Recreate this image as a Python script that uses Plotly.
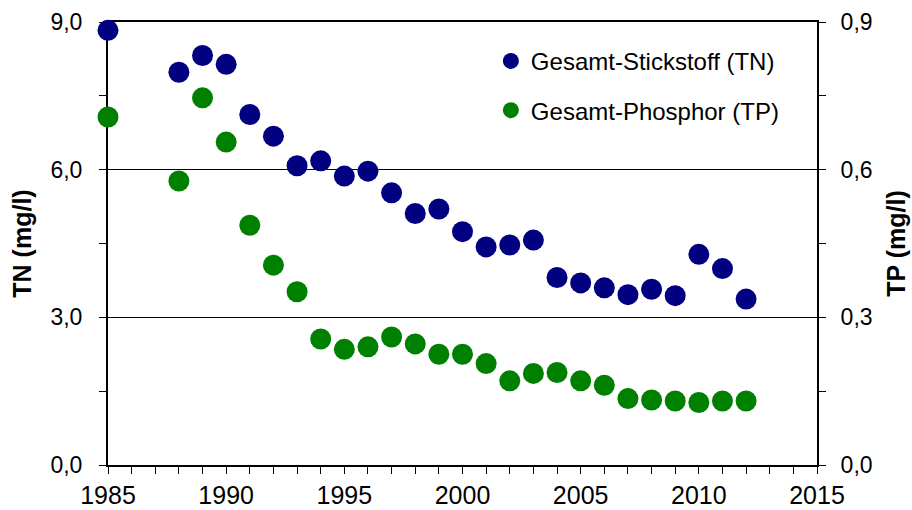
import plotly.graph_objects as go

years = [1985, 1988, 1989, 1990, 1991, 1992, 1993, 1994, 1995, 1996, 1997, 1998, 1999,
         2000, 2001, 2002, 2003, 2004, 2005, 2006, 2007, 2008, 2009, 2010, 2011, 2012]
tn = [8.83, 7.98, 8.32, 8.14, 7.12, 6.68, 6.08, 6.18, 5.87, 5.97, 5.53, 5.11, 5.20,
      4.74, 4.43, 4.47, 4.57, 3.81, 3.70, 3.60, 3.46, 3.57, 3.44, 4.28, 3.99, 3.37]
tp = [0.707, 0.577, 0.746, 0.656, 0.487, 0.406, 0.352, 0.256, 0.235, 0.240, 0.260, 0.246, 0.225,
      0.225, 0.206, 0.171, 0.186, 0.188, 0.171, 0.162, 0.135, 0.132, 0.130, 0.127, 0.130, 0.130]

tn_name = "Gesamt-Stickstoff (TN)"
tp_name = "Gesamt-Phosphor (TP)"
tn_title = "TN (mg/l)"
tp_title = "TP (mg/l)"

FONT = "Liberation Sans, Arial, sans-serif"

fig = go.Figure()
fig.add_trace(go.Scatter(x=years, y=tn, mode="markers", name=tn_name, legendgroup="a",
                         marker=dict(color="#000080", size=21), cliponaxis=False))
fig.add_trace(go.Scatter(x=years, y=tp, mode="markers", name=tp_name, legendgroup="b",
                         yaxis="y2", marker=dict(color="#008000", size=21), cliponaxis=False))

axis_common = dict(showline=True, linecolor="#000", linewidth=2, ticks="outside",
                   tickcolor="#000", ticklen=7, tickwidth=1, layer="below traces",
                   zeroline=False, automargin=False)

fig.update_layout(
    width=912, height=510,
    margin=dict(l=108, r=95, t=22, b=45),
    paper_bgcolor="white", plot_bgcolor="white",
    separators=",.",
    font=dict(family=FONT, color="#000"),
    showlegend=True,
    legend=dict(x=0.540, y=0.962, xanchor="left", yanchor="top",
                font=dict(size=24, family=FONT), bgcolor="rgba(0,0,0,0)",
                tracegroupgap=15, traceorder="grouped", itemwidth=30),
    xaxis=dict(range=[1985, 2015], dtick=5, tick0=1985, tickformat="d",
               tickfont=dict(size=25), mirror=True, showgrid=False,
               minor=dict(dtick=1, ticks="outside", ticklen=7, tickcolor="#000"),
               **axis_common),
    yaxis=dict(range=[0, 9], dtick=3, tickformat=".1f", tickfont=dict(size=23),
               showgrid=True, gridcolor="#000", gridwidth=1, ticklabelstandoff=12,
               minor=dict(dtick=1.5, ticks="outside", ticklen=7, tickcolor="#000", showgrid=False),
               title=dict(text="<b>" + tn_title + "</b>", font=dict(size=25), standoff=12),
               **axis_common),
    yaxis2=dict(range=[0, 0.9], dtick=0.3, tickformat=".1f", tickfont=dict(size=23),
                overlaying="y", side="right", showgrid=False, ticklabelstandoff=10,
                minor=dict(dtick=0.15, ticks="outside", ticklen=7, tickcolor="#000", showgrid=False),
                title=dict(text="<b>" + tp_title + "</b>", font=dict(size=25), standoff=16),
                **axis_common),
)

fig.write_html("out.html")
